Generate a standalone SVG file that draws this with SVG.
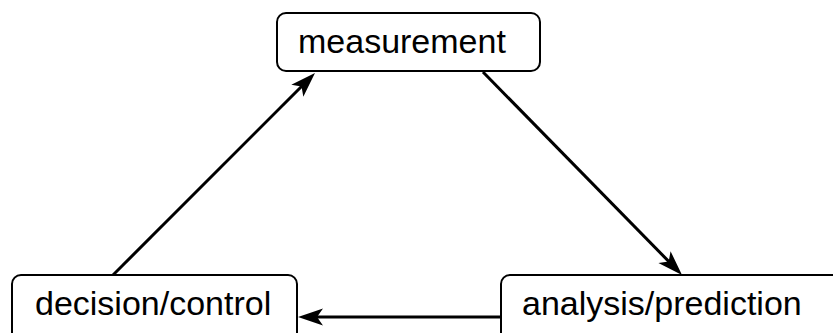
<svg xmlns="http://www.w3.org/2000/svg" width="833" height="333" viewBox="0 0 833 333">
<style>
.box{fill:#fff;stroke:#000;stroke-width:2}
.lbl{font-family:"Liberation Sans",Arial,sans-serif;font-size:34px;fill:#000}
.edge{stroke:#000;stroke-width:3;fill:none}
</style>
<defs>
<marker id="ah" markerUnits="userSpaceOnUse" markerWidth="26" markerHeight="18" refX="13" refY="8.5" orient="auto" overflow="visible">
<path d="M0,0 L25,8.5 L0,17 L6,8.5 z" fill="#000"/>
</marker>
</defs>
<rect width="833" height="333" fill="#fff"/>
<g id="connectors">
<line class="edge" x1="113" y1="275" x2="306.5" y2="81.5" marker-end="url(#ah)"/>
<line class="edge" x1="483" y1="72" x2="673.6" y2="266.4" marker-end="url(#ah)"/>
<line class="edge" x1="501" y1="317" x2="310" y2="317" marker-end="url(#ah)"/>
</g>
<g id="measurement">
<rect class="box" x="277" y="13" width="263" height="58" rx="9"/>
<text class="lbl" x="298" y="53">measurement</text>
</g>
<g id="decision">
<rect class="box" x="12" y="275" width="285" height="70" rx="9"/>
<text class="lbl" x="35" y="315">decision/control</text>
</g>
<g id="analysis">
<rect class="box" x="501" y="275" width="350" height="70" rx="9"/>
<text class="lbl" x="522" y="315">analysis/prediction</text>
</g>
</svg>
